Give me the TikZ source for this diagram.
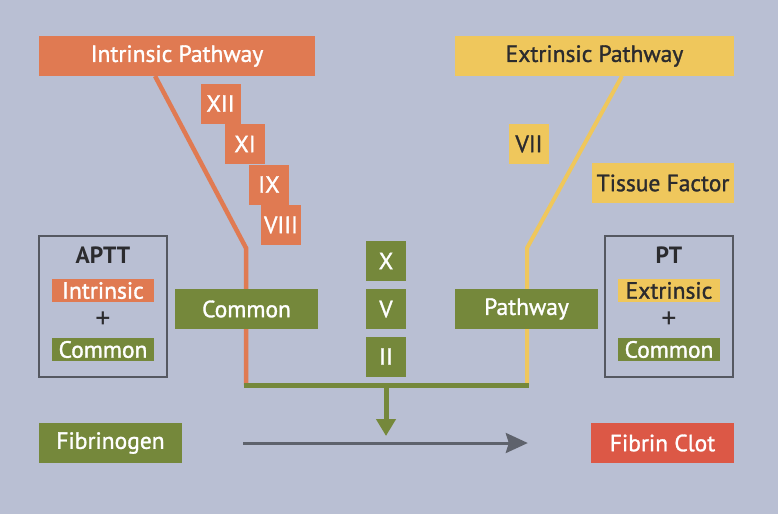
\documentclass[tikz,border=0pt]{standalone}
\usepackage{fontspec}
\setmainfont{PT Sans}
\newfontfamily\semifont{PT Sans}[FakeBold=1.3]
\usepackage{xcolor}
\usetikzlibrary{arrows.meta,positioning,backgrounds,calc}

\definecolor{bgblue}{HTML}{B9BFD3}
\definecolor{iorange}{HTML}{E07A52}
\definecolor{eyellow}{HTML}{EFC75C}
\definecolor{cgreen}{HTML}{75883B}
\definecolor{clotred}{HTML}{DC5846}
\definecolor{arrgrey}{HTML}{5E626C}
\definecolor{txtdark}{HTML}{2B2B2E}

\tikzset{
    box/.style={inner sep=0pt, minimum height=40pt, font=\semifont\fontsize{23.5}{25}\selectfont},
    orangebox/.style={box, fill=iorange, text=white},
    yellowbox/.style={box, fill=eyellow, text=txtdark},
    greenbox/.style={box, fill=cgreen, text=white},
    factor/.style={minimum width=40pt},
    testbox/.style={draw=arrgrey!90!black, line width=1.5pt, minimum width=128pt, minimum height=141pt},
    tag/.style={box, minimum width=102pt, minimum height=23pt},
    plain/.style={font=\fontsize{23.5}{25}\selectfont, text=txtdark},
    plus/.style={inner sep=0pt, font=\fontsize{30}{30}\selectfont, text=txtdark}
}

\begin{document}
\begin{tikzpicture}[x=1pt, y=-1pt]
    \useasboundingbox (0,0) rectangle (778,514);

    % Pathway headers
    \node[orangebox, minimum width=276pt] (intr) at (177,56) {Intrinsic Pathway};
    \node[yellowbox, minimum width=279pt] (extr) at (594.5,56) {Extrinsic Pathway};

    % Intrinsic factors
    \foreach \x/\y/\f in {220.5/103.5/XII, 245/144/XI, 269/184.5/IX, 281/225/VIII} {
        \node[orangebox, factor] (f\f) at (\x,\y) {\f};
    }

    % Extrinsic factors
    \node[yellowbox, factor] (fVII) at (529,144) {VII};
    \node[yellowbox, minimum width=142pt] (tissue) at (663,183) {Tissue Factor};

    % Common pathway factors
    \foreach \y/\f in {261/X, 309/V, 356.5/II} {
        \node[greenbox, factor] (f\f) at (386,\y) {\f};
    }
    \node[greenbox, minimum width=143pt] (common) at (246.5,309) {Common};
    \node[greenbox, minimum width=143pt] (pathway) at (526.5,309) {Pathway};

    % Test boxes
    \node[testbox] (aptt) at (103,306.5) {};
    \node[plain, font=\fontsize{23.5}{25}\selectfont\bfseries] (apttlbl) at (103,255) {APTT};
    \node[tag, orangebox, minimum height=23pt] (apttint) at (103,290.5) {Intrinsic};
    \node[plus] (apttplus) at (103,320) {+};
    \node[tag, greenbox, minimum height=23pt] (apttcom) at (103,349.5) {Common};

    \node[testbox] (pt) at (669,306.5) {};
    \node[plain, font=\fontsize{23.5}{25}\selectfont\bfseries] (ptlbl) at (669,255) {PT};
    \node[tag, yellowbox, minimum height=23pt] (ptext) at (669,290.5) {Extrinsic};
    \node[plus] (ptplus) at (669,320) {+};
    \node[tag, greenbox, minimum height=23pt] (ptcom) at (669,349.5) {Common};

    % Fibrinogen to clot
    \node[greenbox, minimum width=143pt] (fibrinogen) at (110.5,443) {Fibrinogen};
    \node[box, fill=clotred, text=white, minimum width=143pt] (clot) at (662.5,443) {Fibrin Clot};

    % Cascade lines
    \coordinate (istart) at (155,76);
    \coordinate (ibend) at (246,248);
    \coordinate (ijoin) at (246,385);
    \coordinate (estart) at (622,76);
    \coordinate (ebend) at (527,248);
    \coordinate (ejoin) at (527,385);
    \coordinate (fork) at (386,385);
    \coordinate (down) at (386,436);

    \begin{pgfonlayer}{background}
        \fill[bgblue] (0,0) rectangle (778,514);
        \draw[iorange, line width=4.5pt] (istart) -- (ibend) -- (ijoin);
        \draw[eyellow, line width=4pt] (estart) -- (ebend) -- (ejoin);
    \end{pgfonlayer}
    \draw[cgreen, line width=5pt] ([xshift=-2pt]ijoin) -- ([xshift=2pt]ejoin);
    \draw[cgreen, line width=5pt, -{Triangle[length=17pt, width=19pt]}] (fork) -- (down);
    \draw[arrgrey, line width=3pt, -{Stealth[length=22pt, width=20pt, inset=3pt]}, shorten <=61pt, shorten >=63pt] (fibrinogen.east) -- (clot.west);
\end{tikzpicture}
\end{document}
